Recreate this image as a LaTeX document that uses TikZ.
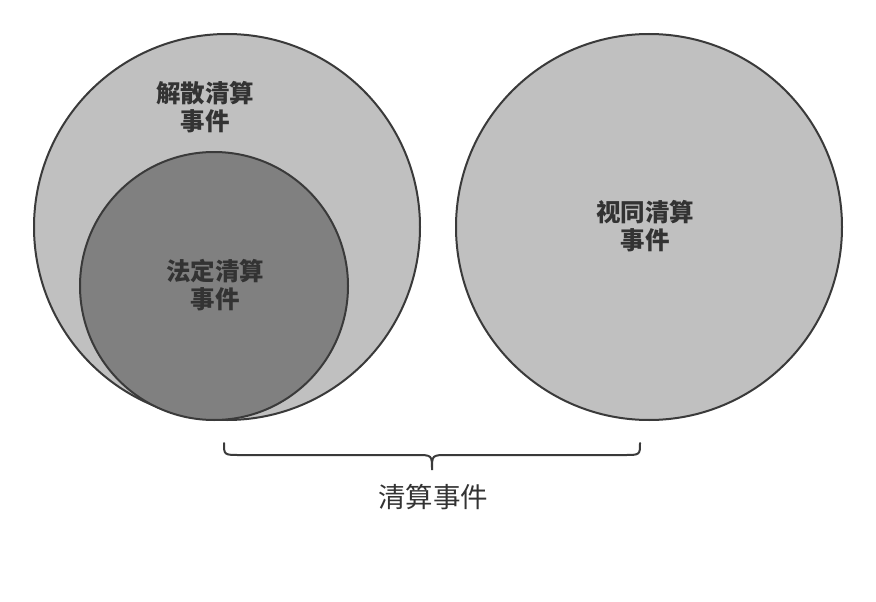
\documentclass[tikz,border=0pt]{standalone}
\usepackage{fontspec}
\newfontfamily\cjk{Noto Sans CJK SC}
\definecolor{ringline}{HTML}{3A3A3A}
\definecolor{lightfill}{HTML}{C0C0C0}
\definecolor{darkfill}{HTML}{808080}
\definecolor{inktext}{HTML}{333333}

\begin{document}
\begin{tikzpicture}[x=1pt,y=-1pt,
	set/.style={circle, draw=ringline, line width=2pt, inner sep=0pt},
	setname/.style={align=center, text=inktext, font=\cjk\bfseries\fontsize{24.5}{28}\selectfont}]
			\useasboundingbox (0,0) rectangle (876,602);
			\node (outer) [set, fill=lightfill, minimum size=386pt] at (227,227) {};
			\node (inner) [set, fill=darkfill, minimum size=268pt] at (214,286) {};
			\node (deemed) [set, fill=lightfill, minimum size=386pt] at (649,227) {};
			\node (outerlbl) [setname] at (205,107) {解散清算\\事件};
			\node (innerlbl) [setname] at (215,285) {法定清算\\事件};
			\node (deemedlbl) [setname] at (645,226) {视同清算\\事件};
			% brace under both sets
			\coordinate (bl) at (224,443);
			\coordinate (tip) at (432,470);
			\coordinate (br) at (640,443);
			\draw [ringline, line width=2pt, line cap=round]
			(bl) .. controls (224,455) .. (240,455) -- (416,455)
			.. controls (432,455) .. (tip)
			.. controls (432,455) .. (448,455) -- (624,455)
			.. controls (640,455) .. (br);
			\node (total) [text=inktext, font=\cjk\fontsize{27.5}{32}\selectfont] at (433,497) {清算事件};
		\end{tikzpicture}
\end{document}
